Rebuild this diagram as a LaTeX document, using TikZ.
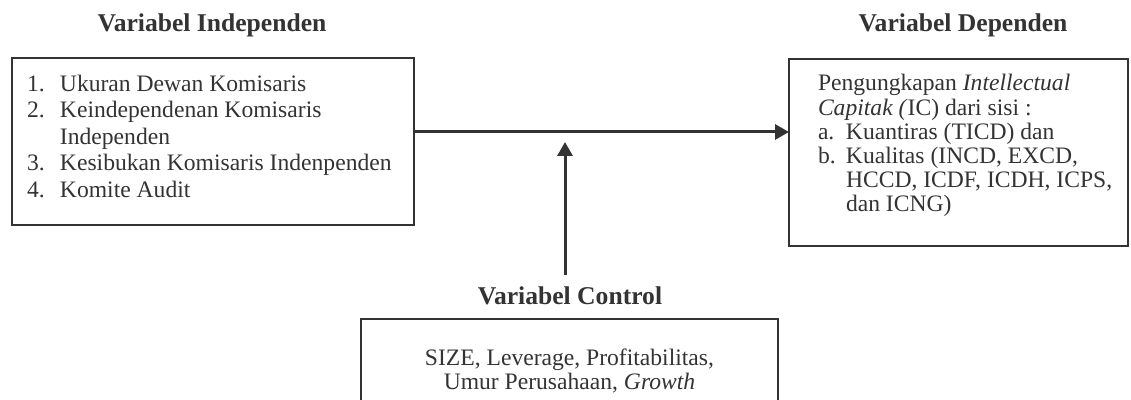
\documentclass[tikz,border=0pt]{standalone}
\usepackage{fontspec}
\setmainfont{Liberation Serif}
\usepackage{xcolor}
\usepackage{tikz}
\usetikzlibrary{arrows.meta,calc,positioning}
\definecolor{Ink}{HTML}{333333}
\newcommand{\bodyfont}{\fontsize{11.8}{13.2}\selectfont}
\begin{document}
\begin{tikzpicture}[
  x=0.5pt,y=-0.5pt,
  box/.style={draw=Ink,line width=1.4pt,outer sep=0pt,inner ysep=7.5pt,anchor=north west,text=Ink},
  title/.style={font=\fontsize{12.8}{14}\selectfont\bfseries,text=Ink,inner sep=0pt},
  arr/.style={-{Triangle[length=7pt,width=7.5pt]},line width=1.5pt,draw=Ink}
]
\useasboundingbox (0,0) rectangle (1131,400);

\node[title] (indeptitle) at (212,25) {Variabel Independen};
\node[title] (deptitle) at (963,25) {Variabel Dependen};
\node[title] (ctrltitle) at (570,296) {Variabel Control};

\node[box,inner xsep=7.5pt] (indep) at (12,58) {\parbox[c][68.5pt][t]{186pt}{\bodyfont\noindent
  \begin{tabular}[t]{@{}p{16.5pt}@{}l@{}}
  1. & Ukuran Dewan Komisaris\\
  2. & Keindependenan Komisaris\\
     & Independen\\
  3. & Kesibukan Komisaris Indenpenden\\
  4. & Komite Audit
  \end{tabular}}};

\node[box,inner xsep=14.5pt] (dep) at (789,59) {\parbox[c][78.5pt][t]{140.5pt}{\fontsize{11.8}{12.1}\selectfont\noindent
  \begin{tabular}[t]{@{}p{14pt}@{}l@{}}
  \multicolumn{2}{@{}l@{}}{Pengungkapan \textit{Intellectual}}\\
  \multicolumn{2}{@{}l@{}}{\textit{Capitak (}IC) dari sisi :}\\
  a. & Kuantiras (TICD) dan\\
  b. & Kualitas (INCD, EXCD,\\
     & HCCD, ICDF, ICDH, ICPS,\\
     & dan ICNG)
  \end{tabular}}};

\node[box,anchor=center,minimum width=208.5pt,minimum height=52pt,align=center,
  font=\fontsize{11.8}{12}\selectfont] (ctrl) at (569.5,371)
  {SIZE, Leverage, Profitabilitas,\\Umur Perusahaan, \textit{Growth}};

% connectors
\coordinate (link) at ([yshift=4.75pt]indep.east);
\draw[arr] (link) -- (link -| dep.west);
\coordinate (ctrlbase) at (565,275);
\coordinate (ctrltip) at (565,142);
\draw[arr] (ctrlbase) -- (ctrltip);
\end{tikzpicture}
\end{document}
